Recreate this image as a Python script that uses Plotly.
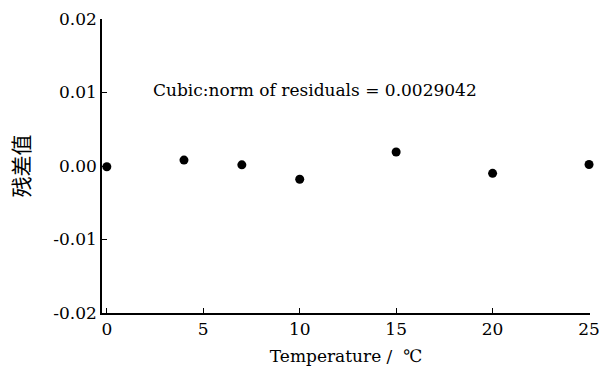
import plotly.graph_objects as go

temperature = [0, 4, 7, 10, 15, 20, 25]
residuals = [-0.0001, 0.0008, 0.00016, -0.0018, 0.0019, -0.001, 0.0002]
y_tickvals = [-0.02, -0.01, 0.0, 0.01, 0.02]
y_ticktext = ["-0.02", "-0.01", "0.00", "0.01", "0.02"]
x_tickvals = [0, 5, 10, 15, 20, 25]
annotation_text = "Cubic:norm of residuals = 0.0029042"

serif = "DejaVu Serif"

fig = go.Figure()
fig.add_trace(go.Scatter(
    x=temperature, y=residuals, mode="markers",
    marker=dict(color="black", size=9),
    showlegend=False, cliponaxis=False,
))
fig.add_annotation(
    x=2.28, y=0.0104, xref="x", yref="y", text=annotation_text,
    showarrow=False, xanchor="left", yanchor="middle",
    font=dict(family=serif, size=17, color="black"),
)
fig.update_layout(
    width=599, height=372,
    margin=dict(l=102, r=9, t=19, b=59),
    plot_bgcolor="white", paper_bgcolor="white",
    font=dict(family=serif, size=17, color="black"),
)
fig.update_xaxes(
    range=[-0.25, 25.05], tickvals=x_tickvals,
    showline=True, linecolor="black", linewidth=1.5,
    ticks="inside", ticklen=5, tickcolor="black",
    tickfont=dict(family=serif, size=17),
    ticklabeloverflow="allow", automargin=False,
    showgrid=False, zeroline=False,
    title=dict(text="Temperature /  ℃", font=dict(family=serif, size=17), standoff=12),
)
fig.update_yaxes(
    range=[-0.02, 0.02], tickvals=y_tickvals, ticktext=y_ticktext,
    showline=True, linecolor="black", linewidth=1.5,
    ticks="inside", ticklen=5, tickcolor="black",
    tickfont=dict(family=serif, size=17),
    automargin=False,
    showgrid=False, zeroline=False,
    title=dict(text="残差值", font=dict(family="Noto Sans CJK SC", size=21), standoff=18),
)
fig.write_html("out.html")
